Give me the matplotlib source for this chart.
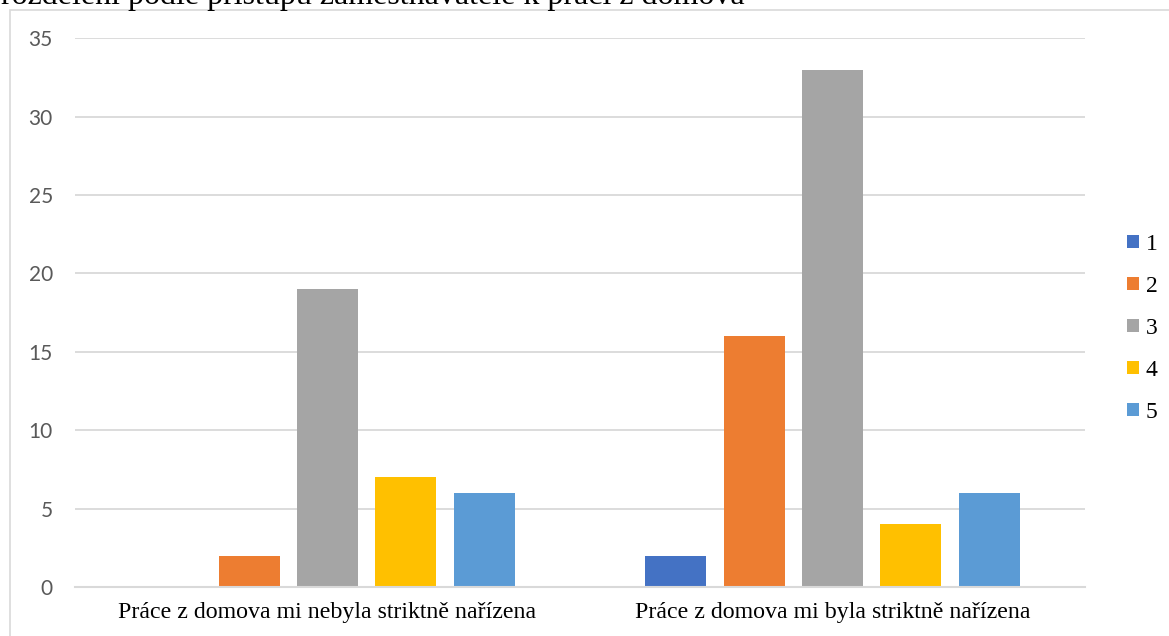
import matplotlib
matplotlib.use("Agg")
import matplotlib.pyplot as plt
from matplotlib.patches import Patch, Rectangle
import numpy as np

# Data
categories = ["Práce z domova mi nebyla striktně nařízena",
              "Práce z domova mi byla striktně nařízena"]
series_labels = ["1", "2", "3", "4", "5"]
series_values = [
    [0, 2],    # 1
    [2, 16],   # 2
    [19, 33],  # 3
    [7, 4],    # 4
    [6, 6],    # 5
]
colors = ["#4472C4", "#ED7D31", "#A5A5A5", "#FFC000", "#5B9BD5"]
y_ticks = [0, 5, 10, 15, 20, 25, 30, 35]
heading = "rozdělení podle přístupu zaměstnavatele k práci z domova"

W, H = 1169, 636
fig = plt.figure(figsize=(W / 100, H / 100), dpi=100)

# Chart frame
fig.add_artist(Rectangle((10 / W, -0.1), 1.2, (H - 9.5) / H + 0.1,
                         transform=fig.transFigure, fill=False,
                         edgecolor="#D9D9D9", linewidth=1.2))

# Heading text above the frame (runs past the top edge of the page)
fig.text(1 / W, 1 - 4 / H, heading, family="Liberation Serif",
         fontsize=23, ha="left", va="baseline", color="black")

left, right = 75 / W, 1085 / W
bottom, top = 1 - 587 / H, 1 - 38.3 / H
ax = fig.add_axes([left, bottom, right - left, top - bottom])

x = np.arange(len(categories))
step = 0.1554
width = 0.1208
for i, (lab, vals, col) in enumerate(zip(series_labels, series_values, colors)):
    ax.bar(x + (i - 2) * step, vals, width=width, color=col, label=lab, zorder=3)

ax.set_xlim(-0.5, 1.5)
ax.set_ylim(0, 35)
ax.set_yticks(y_ticks)
ax.yaxis.grid(True, color="#D9D9D9", linewidth=1.3, zorder=0)
ax.set_axisbelow(True)
for s in ["top", "right", "left"]:
    ax.spines[s].set_visible(False)
ax.spines["bottom"].set_color("#D9D9D9")
ax.spines["bottom"].set_linewidth(1.5)
ax.spines["bottom"].set_zorder(4)

ax.set_xticks(x)
ax.set_xticklabels(categories, family="Liberation Serif", fontsize=17.2)
ax.tick_params(axis="x", length=0, pad=11)
ax.tick_params(axis="y", length=0, pad=16, labelcolor="#595959", labelsize=15)
for t in ax.get_yticklabels():
    t.set_family("Lato")

handles = [Patch(facecolor=c, edgecolor="none") for c in colors]
fig.legend(handles, series_labels, loc="center left",
           bbox_to_anchor=(1115 / W, 1 - 328.5 / H),
           frameon=False, prop={"family": "Liberation Serif", "size": 17},
           handlelength=0.5, handleheight=0.5, handletextpad=0.3,
           labelspacing=0.89, borderpad=0)

fig.savefig("out.png", dpi=100)
